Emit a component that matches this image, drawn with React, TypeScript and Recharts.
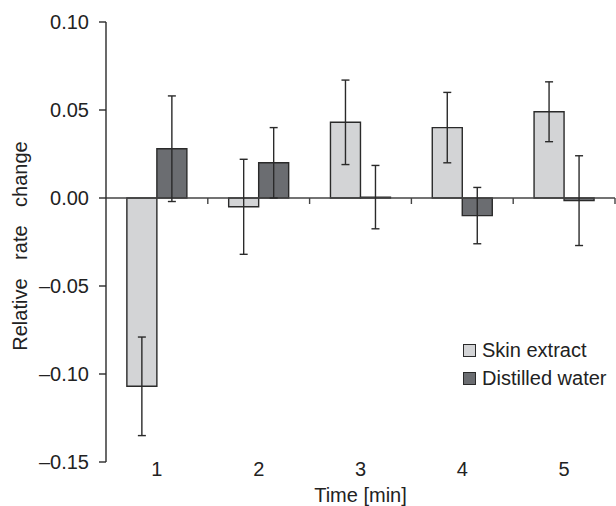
import React from 'react'
import {
  BarChart,
  Bar,
  XAxis,
  YAxis,
  ErrorBar,
  Legend,
  ReferenceLine,
  Label,
} from 'recharts'

const times = ['1', '2', '3', '4', '5']
const skinExtract = [-0.107, -0.005, 0.043, 0.04, 0.049]
const skinExtractErr = [0.028, 0.027, 0.024, 0.02, 0.017]
const distilledWater = [0.028, 0.02, 0.0005, -0.01, -0.0015]
const distilledWaterErr = [0.03, 0.02, 0.018, 0.016, 0.0255]
const yTicks = [-0.15, -0.1, -0.05, 0, 0.05, 0.1]
const seriesNames = ['Skin extract', 'Distilled water']

const data = times.map((t, i) => ({
  time: t,
  skin: skinExtract[i],
  skinErr: skinExtractErr[i],
  water: distilledWater[i],
  waterErr: distilledWaterErr[i],
}))

const FONT = '"Liberation Sans", Arial, Helvetica, sans-serif'
const INK = '#2a2a2a'

const fmt = (v: number) => (v < 0 ? '\u2013' + Math.abs(v).toFixed(2) : v.toFixed(2))

// zero line with small downward ticks at the category boundaries
const ZeroLine = (props: any) => {
  const { x1, y1, x2, y2 } = props
  const n = times.length
  const step = (x2 - x1) / n
  return (
    <g>
      <line x1={x1} y1={y1} x2={x2} y2={y2} stroke="#444" strokeWidth={1.4} />
      {times.map((_, i) => (
        <line
          key={i}
          x1={x1 + (i + 1) * step}
          x2={x1 + (i + 1) * step}
          y1={y1}
          y2={y1 + 6}
          stroke="#444"
          strokeWidth={1.4}
        />
      ))}
    </g>
  )
}

const renderLegend = (props: any) => {
  const items = [...(props.payload || [])].sort(
    (a: any, b: any) => seriesNames.indexOf(a.value) - seriesNames.indexOf(b.value)
  )
  return (
    <div style={{ fontFamily: FONT, fontSize: 20, color: '#222' }}>
      {items.map((entry: any) => (
        <div key={entry.value} style={{ display: 'flex', alignItems: 'center', height: 27.5 }}>
          <span
            style={{
              display: 'inline-block',
              width: 11,
              height: 11,
              background: entry.color,
              border: `1px solid ${INK}`,
              marginRight: 6,
            }}
          />
          <span>{entry.value}</span>
        </div>
      ))}
    </div>
  )
}

const YLabel = (props: any) => {
  const { viewBox } = props
  const cx = viewBox.x + 26.5
  const cy = viewBox.y + viewBox.height / 2 + 4
  return (
    <text
      x={cx}
      y={cy}
      transform={`rotate(-90, ${cx}, ${cy})`}
      textAnchor="middle"
      fontFamily={FONT}
      fontSize={20}
      fill="#222"
      style={{ wordSpacing: 13 }}
    >
      Relative rate change
    </text>
  )
}

export default function App() {
  return (
    <div style={{ position: 'absolute', left: 0, top: 0, background: '#fff' }}>
      <BarChart
        width={616}
        height={506}
        data={data}
        margin={{ top: 22, right: 1, bottom: 0, left: 0 }}
        barCategoryGap="20.5%"
        barGap={0}
      >
        <XAxis
          dataKey="time"
          height={44}
          axisLine={false}
          tickLine={false}
          tickSize={0}
          tickMargin={0}
          tick={{ fontFamily: FONT, fontSize: 20, fill: '#222' }}
        >
          <Label value="Time [min]" position="insideBottom" offset={4} fontFamily={FONT} fontSize={20} fill="#222" />
        </XAxis>
        <YAxis
          width={106}
          domain={[-0.15, 0.1]}
          ticks={yTicks}
          tickFormatter={fmt}
          tickSize={7}
          tickMargin={10}
          interval={0}
          allowDataOverflow
          axisLine={{ stroke: INK, strokeWidth: 1.4 }}
          tickLine={{ stroke: INK, strokeWidth: 1.4 }}
          tick={{ fontFamily: FONT, fontSize: 20, fill: '#222' }}
        >
          <Label content={<YLabel />} />
        </YAxis>
        <ReferenceLine y={0} shape={<ZeroLine />} />
        <Legend
          content={renderLegend}
          layout="vertical"
          align="center"
          verticalAlign="middle"
          wrapperStyle={{ position: 'absolute', left: 463, top: 337, width: 160 }}
        />
        <Bar
          dataKey="skin"
          name="Skin extract"
          fill="#d3d4d6"
          stroke={INK}
          strokeWidth={1.4}
          isAnimationActive={false}
        >
          <ErrorBar dataKey="skinErr" width={4} stroke={INK} strokeWidth={1.4} direction="y" isAnimationActive={false} />
        </Bar>
        <Bar
          dataKey="water"
          name="Distilled water"
          fill="#6b6d71"
          stroke={INK}
          strokeWidth={1.4}
          isAnimationActive={false}
        >
          <ErrorBar dataKey="waterErr" width={4} stroke={INK} strokeWidth={1.4} direction="y" isAnimationActive={false} />
        </Bar>
      </BarChart>
    </div>
  )
}
